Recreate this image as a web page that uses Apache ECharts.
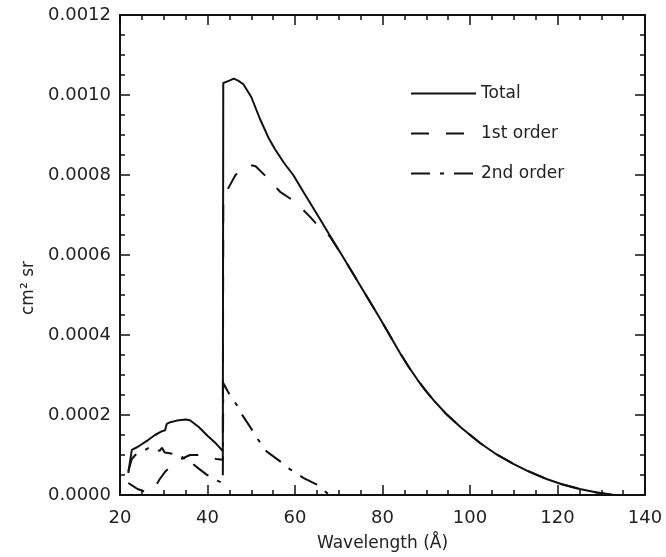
<!DOCTYPE html>
<html>
<head>
<meta charset="utf-8">
<title>Effective area</title>
<script src="https://cdn.jsdelivr.net/npm/echarts@6/dist/echarts.min.js"></script>
<style>
  html, body { margin: 0; padding: 0; background: #fff; }
  #chart { width: 666px; height: 557px; }
</style>
</head>
<body>
<div id="chart"></div>
<script>
// values (wavelength in Angstrom, cm^2 sr)
const totalWave = [21.9, 22.7, 24, 26.5, 28, 29.5, 30.3, 30.7, 31.5, 33, 35, 36, 38, 40, 42, 43.5,
  43.6, 45, 46, 47, 48.2, 50, 52, 53.9, 55.4, 57.5, 59.6, 62, 65.7, 68, 70.7, 75, 79.4, 84, 86,
  88, 90, 92, 94.7, 98, 102.3, 106, 109.9, 113, 117.5, 121, 125.1, 129, 132.8];
const totalVal = [0.000055, 0.000113, 0.00012, 0.000138, 0.00015, 0.000159, 0.000162, 0.000178,
  0.000182, 0.000186, 0.000189, 0.000187, 0.00017, 0.000148, 0.000128, 0.00011,
  0.00103, 0.001036, 0.001041, 0.001036, 0.001027, 0.000995, 0.00094, 0.000894, 0.000865, 0.00083,
  0.0008, 0.000756, 0.00069, 0.000648, 0.0006, 0.000522, 0.000442, 0.000355, 0.00032,
  0.000288, 0.000259, 0.000233, 0.000201, 0.000168, 0.00013, 0.000102, 0.000078, 0.000061,
  0.00004, 0.000027, 0.000015, 0.000006, 0];

const firstWave = [21.9, 23, 24, 25.3, 26.5, 28, 29.1, 30.3, 31.5, 32.5, 34, 36, 38, 40, 42, 43.5,
  43.6, 44.4, 46.4, 48, 49.7, 51, 53.5, 56.6, 60, 63.4, 66.1, 68, 70.7, 75, 79.4, 84, 86,
  88, 90, 92, 94.7, 98, 102.3, 106, 109.9, 113, 117.5, 121, 125.1, 129, 132.8];
const firstVal = [0.00003, 0.000022, 0.000015, 0.00001, 0.000006, 0.00002, 0.00004, 0.000058,
  0.00007, 0.00008, 0.00009, 0.0001, 0.0001, 0.000096, 0.00009, 0.000088,
  0.00074, 0.00076, 0.0008, 0.000818, 0.000825, 0.000822, 0.000795, 0.000758, 0.000733, 0.000696,
  0.000663, 0.000646, 0.0006, 0.000522, 0.000442, 0.000355, 0.00032,
  0.000288, 0.000259, 0.000233, 0.000201, 0.000168, 0.00013, 0.000102, 0.000078, 0.000061,
  0.00004, 0.000027, 0.000015, 0.000006, 0];

const secondWave = [21.9, 22.7, 23.5, 25.3, 26.5, 28, 29, 29.6, 30.2, 31, 32.5, 33.7, 34.5, 36.4,
  38, 39.8, 41.7, 43.5, 43.6, 45, 46.7, 48, 49.7, 51.6, 53.5, 56.6, 58.9, 61.9, 65, 67.2, 68];
const secondVal = [0.00006, 0.00009, 0.0001, 0.00011, 0.000117, 0.000118, 0.00011, 0.000118,
  0.000106, 0.000105, 0.000102, 0.0001, 0.000092, 0.00008, 0.000066, 0.000051, 0.000038, 0.00003,
  0.00028, 0.000252, 0.000225, 0.000199, 0.000171, 0.000138, 0.000109, 0.000084, 0.000064,
  0.000043, 0.000026, 0.000006, 0];

const seriesNames = ['Total', '1st order', '2nd order'];
const xTicks = [20, 140, 20];        // min, max, interval
const yTicks = [0, 0.0012, 0.0002];

function pairs(xs, ys) {
  return xs.map((x, i) => [x, ys[i]]);
}

const ink = '#111';
const font = 'DejaVu Sans';

function frameAxis(extra) {
  return Object.assign({
    type: 'value',
    axisLine: { show: true, onZero: false, lineStyle: { color: ink, width: 2 } },
    axisTick: { show: true, inside: true, length: 10, lineStyle: { color: ink, width: 1.5 } },
    minorTick: { show: true, splitNumber: 4, length: 5, lineStyle: { color: ink, width: 1.5 } },
    splitLine: { show: false },
    axisLabel: { show: false }
  }, extra);
}

const chart = echarts.init(document.getElementById('chart'));

chart.setOption({
  animation: false,
  backgroundColor: '#fff',
  grid: { left: 120, right: 21, top: 15, bottom: 58 },
  legend: {
    data: seriesNames,
    orient: 'vertical',
    left: 405,
    top: 80,
    itemWidth: 65,
    itemHeight: 14,
    itemGap: 23,
    itemStyle: { opacity: 0 },
    textStyle: { fontFamily: font, fontSize: 17, color: '#222' }
  },
  graphic: [{
    type: 'text',
    x: 29,
    y: 288,
    rotation: Math.PI / 2,
    style: {
      text: 'cm² sr',
      fontFamily: font,
      fontSize: 17,
      fill: '#222',
      align: 'center',
      verticalAlign: 'middle'
    }
  }],
  xAxis: [
    frameAxis({
      position: 'bottom',
      min: xTicks[0], max: xTicks[1], interval: xTicks[2],
      name: 'Wavelength (Å)',
      nameLocation: 'middle',
      nameGap: 40,
      nameTextStyle: { fontFamily: font, fontSize: 17, color: '#222' },
      axisLabel: { show: true, margin: 14, fontFamily: font, fontSize: 18, color: '#222' }
    }),
    frameAxis({ position: 'top', min: xTicks[0], max: xTicks[1], interval: xTicks[2] })
  ],
  yAxis: [
    frameAxis({
      position: 'left',
      min: yTicks[0], max: yTicks[1], interval: yTicks[2],
      axisLabel: {
        show: true, margin: 9, fontFamily: font, fontSize: 18, color: '#222',
        formatter: v => v.toFixed(4)
      }
    }),
    frameAxis({ position: 'right', min: yTicks[0], max: yTicks[1], interval: yTicks[2] })
  ],
  series: [
    {
      name: seriesNames[0],
      type: 'line',
      data: pairs(totalWave, totalVal),
      symbol: 'none',
      lineStyle: { color: ink, width: 2, type: 'solid' },
      itemStyle: { color: ink }
    },
    {
      name: seriesNames[1],
      type: 'line',
      data: pairs(firstWave, firstVal),
      symbol: 'none',
      lineStyle: { color: ink, width: 2, type: [18, 17] },
      itemStyle: { color: ink }
    },
    {
      name: seriesNames[2],
      type: 'line',
      data: pairs(secondWave, secondVal),
      symbol: 'none',
      lineStyle: { color: ink, width: 2, type: [19, 10, 4, 10] },
      itemStyle: { color: ink }
    }
  ]
});

window.addEventListener('resize', () => {
  chart.resize();
});
</script>
</body>
</html>
